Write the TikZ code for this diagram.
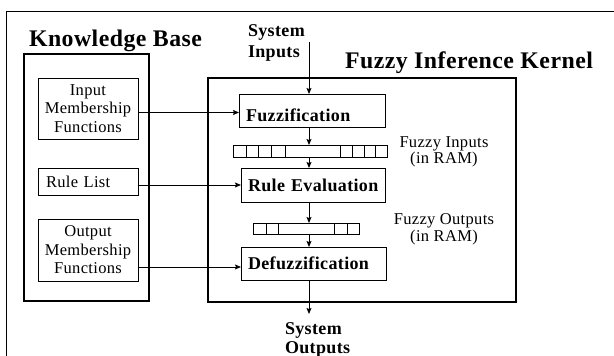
\documentclass[tikz,border=0pt]{standalone}
\usepackage{fontspec}
\setmainfont{Liberation Serif}[LetterSpace=2]
\usetikzlibrary{arrows.meta}
\begin{document}
\begin{tikzpicture}[x=1pt,y=-1pt,
  every node/.style={inner sep=0pt, outer sep=0pt},
  frame/.style={draw, line width=1.5pt, rectangle},
  inbox/.style={draw, line width=0.9pt, rectangle, minimum width=100pt},
  stagebox/.style={draw, line width=0.9pt, rectangle, minimum height=33pt, inner xsep=7pt, align=left, font=\fontsize{18}{19}\selectfont\bfseries},
  title/.style={font=\fontsize{23.8}{25}\selectfont\bfseries},
  lbl/.style={font=\fontsize{16.5}{18.5}\selectfont, align=center},
  bl/.style={font=\fontsize{18}{21}\selectfont\bfseries, align=left},
  reg/.style={draw, line width=0.8pt, rectangle},
  arr/.style={-{Stealth[length=6pt,width=5pt,inset=1pt]}, line width=0.9pt},
]
\useasboundingbox (0,0) rectangle (614,356);
\fill[white] (0,0) rectangle (614,356);

% outer frame (clipped at right and bottom)
\draw[line width=1pt] (614,11) -| (6,356);

% knowledge base
\node[frame, minimum width=125pt, minimum height=247pt] (kb) at (86.5,177.5) {};
\node[title, anchor=base] (kbt) at (115.5,46.5) {Knowledge Base};

\node[inbox, minimum height=61pt, lbl] (inmf) at (88,108.5) {Input\\Membership\\Functions};
\node[inbox, minimum height=27pt, inner xsep=8pt, text width=84pt, align=left, font=\fontsize{16.5}{18}\selectfont] (rl) at (88,181.5) {Rule List};
\node[inbox, minimum height=62pt, lbl] (omf) at (88,250) {Output\\Membership\\Functions};

% kernel
\node[frame, minimum width=308pt, minimum height=224pt] (kernel) at (362,190) {};
\node[title, anchor=base] (kert) at (469,68) {Fuzzy Inference Kernel};

\node[stagebox, minimum width=146pt, text width=132pt, text height=24pt, text depth=3pt, inner ysep=2pt] (fuzz) at (312,110.5) {Fuzzification};
\node[stagebox, minimum width=144pt, minimum height=34pt, text width=130pt] (re) at (313,185) {Rule Evaluation};
\node[stagebox, minimum width=145pt, text width=131pt] (defz) at (313.5,263.5) {Defuzzification};

% registers
\node[reg, minimum width=154pt, minimum height=12pt] (reg1) at (310,151) {};
\foreach \x in {246,258,271,285,340,352,364,375} \draw[line width=0.8pt] (\x,145) -- (\x,157);
\node[reg, minimum width=106pt, minimum height=11pt] (reg2) at (306,228.5) {};
\foreach \x in {266,278,334,347} \draw[line width=0.8pt] (\x,223) -- (\x,234);

\node[lbl, font=\fontsize{16.5}{14}\selectfont, anchor=north] (fin) at (444,136.5) {Fuzzy Inputs\\(in RAM)};
\node[lbl, font=\fontsize{16.5}{17}\selectfont, anchor=north] (fout) at (444,214) {Fuzzy Outputs\\(in RAM)};

% system inputs / outputs
\node[bl, anchor=north west] (sin) at (248,24.5) {System\\Inputs};
\node[bl, font=\fontsize{18}{19}\selectfont\bfseries, anchor=north west] (sout) at (285,322.5) {System\\Outputs};

\coordinate (ax) at (309,0);
\coordinate (inbeg) at (309,42);
\coordinate (outend) at (309,314);

% connectors
\draw[arr] (inbeg) -- (fuzz.north -| ax);
\draw[arr] (fuzz.south -| ax) -- (reg1.north -| ax);
\draw[arr] (reg1.south -| ax) -- (re.north -| ax);
\draw[arr] (re.south -| ax) -- (reg2.north -| ax);
\draw[arr] (reg2.south -| ax) -- (defz.north -| ax);
\draw[arr] (defz.south -| ax) -- (outend);

\coordinate (a1) at ([yshift=-2pt]fuzz.west);
\coordinate (a3) at ([yshift=-3.5pt]defz.west);
\draw[arr] (inmf.east |- a1) -- (a1);
\draw[arr] (rl.east |- re.west) -- (re.west);
\draw[arr] (omf.east |- a3) -- (a3);
\end{tikzpicture}
\end{document}
